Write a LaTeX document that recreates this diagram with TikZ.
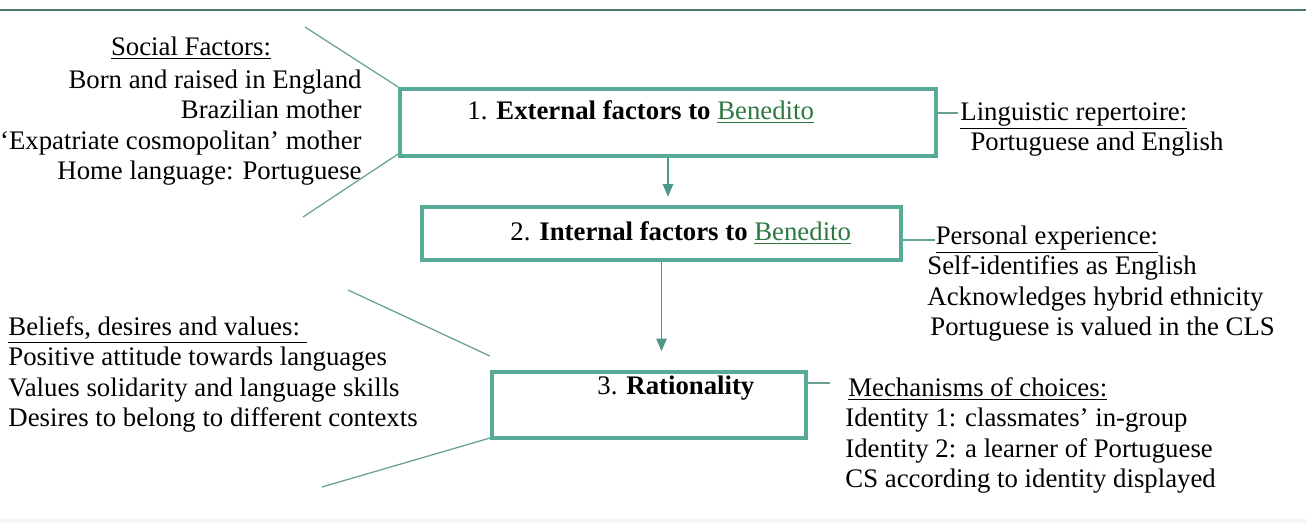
\documentclass[tikz,border=0pt]{standalone}
\usepackage{fontspec}
\setmainfont{LiberationSerif}[Extension=.ttf, UprightFont=*-Regular,
  BoldFont=*-Bold, ItalicFont=*-Italic, BoldItalicFont=*-BoldItalic]
\usepackage{tikz}
\usetikzlibrary{arrows.meta,positioning,calc}

\definecolor{boxteal}{RGB}{86,170,150}
\definecolor{lineteal}{RGB}{105,160,150}
\definecolor{ruleteal}{RGB}{70,120,112}
\definecolor{bengreen}{RGB}{45,120,65}

\newcommand{\ben}{\textcolor{bengreen}{\underline{Benedito}}}

\begin{document}
\begin{tikzpicture}[
  x=0.0168cm, y=-0.0168cm,
  every node/.style={font=\fontsize{12.8}{14.6}\selectfont, inner sep=0pt},
  factorbox/.style={draw=boxteal, line width=1.9pt, fill=white},
  link/.style={draw=lineteal, line width=0.6pt},
  arr/.style={-{Triangle[width=5pt,length=6pt]}, draw=boxteal!90!black,
              fill=boxteal, line width=0.6pt},
  note/.style={align=left, anchor=north west},
]
\useasboundingbox (0,0) rectangle (1306,526);

% ── frame rules ─────────────────────────────────────────────────────────────
\draw[ruleteal, line width=1.2pt] (0,10) -- (1306,10);
\draw[black!4, line width=2pt] (0,521) -- (1306,521);

% ── the three boxes ─────────────────────────────────────────────────────────
\node[factorbox, minimum width=9.00cm, minimum height=1.126cm] (b1) at (668,122.5) {};
\node[factorbox, minimum width=8.05cm, minimum height=0.89cm]  (b2) at (661.5,233.5) {};
\node[factorbox, minimum width=5.28cm, minimum height=1.11cm]  (b3) at (649,405) {};

\node[anchor=base west] (t1) at (467,119) {1. \textbf{External factors to} \ben};
\node[anchor=base west] (t2) at (510,240) {2. \textbf{Internal factors to} \ben};
\node[anchor=base west] (t3) at (597,394) {3. \textbf{Rationality}};

% ── side notes ──────────────────────────────────────────────────────────────
\node[anchor=base] (socT) at (191,55) {\underline{Social Factors:}};
\node[align=right, anchor=north east] (soc) at (362,69)
  {Born and raised in England\\
   Brazilian mother\\
   `Expatriate cosmopolitan' mother\\
   Home language: Portuguese};

\node[note] (ling) at (960,102)
  {\underline{Linguistic repertoire:}\\
   \hspace*{0.17cm}Portuguese and English};

\node[note] (pers) at (927,225)
  {\hspace*{0.14cm}\underline{Personal experience:}\\
   Self-identifies as English\\
   Acknowledges hybrid ethnicity\\
   \hspace*{0.05cm}Portuguese is valued in the CLS};

\node[note] (bel) at (8,316)
  {\underline{Beliefs, desires and values:\ }\\
   Positive attitude towards languages\\
   Values solidarity and language skills\\
   Desires to belong to different contexts};

\node[note] (mech) at (845,377)
  {\hspace*{0.05cm}\underline{Mechanisms of choices:}\\
   Identity 1: classmates' in-group\\
   Identity 2: a learner of Portuguese\\
   CS according to identity displayed};

% ── connectors ──────────────────────────────────────────────────────────────
\coordinate (socU) at (305,27);
\coordinate (socD) at (303,217);
\coordinate (belU) at (348,290);
\coordinate (belD) at (322,487);

\draw[link] (socU) -- (b1.north west);
\draw[link] ($(b1.south west)+(0,-4)$) -- (socD);
\draw[link] (belU) -- ($(b3.north west)+(0,-14)$);
\draw[link] ($(b3.south west)+(0,-2)$) -- (belD);

\draw[link] ($(b1.east |- ling.north)+(0,11)$) -- ($(ling.north west)+(-2,11)$);
\draw[link] ($(b2.east |- pers.north)+(0,15)$) -- ($(pers.north west)+(8,15)$);
\draw[link] ($(b3.east |- mech.north)+(0,6)$) -- ++(22,0);

\draw[arr, shorten >=4pt] (b1.south) -- (b1.south |- b2.north);
\draw[arr, shorten >=9pt] (b2.south) -- (b2.south |- b3.north);
\end{tikzpicture}
\end{document}
